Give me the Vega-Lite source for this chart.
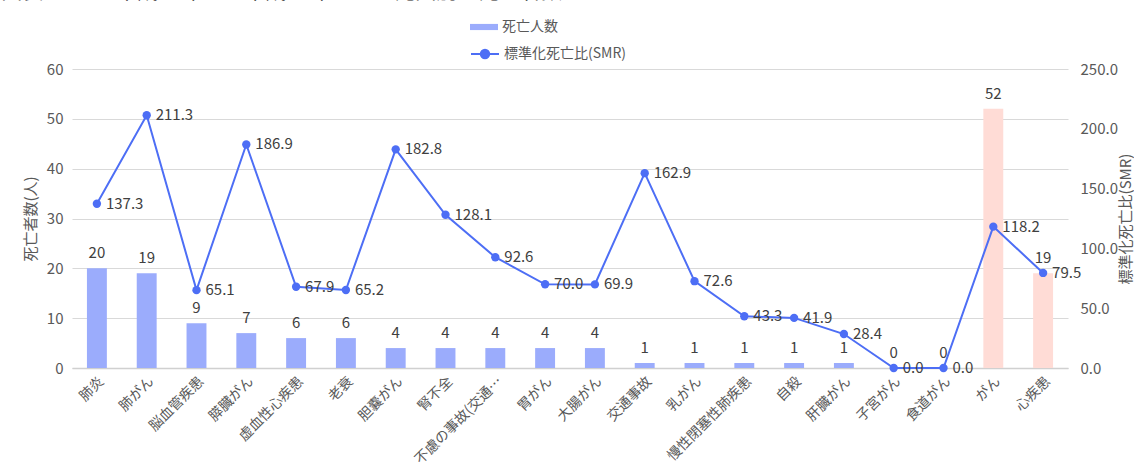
{
  "$schema": "https://vega.github.io/schema/vega-lite/v6.json",
  "width": 996,
  "height": 299,
  "autosize": {"type": "none"},
  "padding": {"left": 72, "top": 69, "right": 66, "bottom": 106},
  "title": {
    "text": "図表5-2-1-4 平成21年から平成25年までの死因別の死亡者数とSMR",
    "anchor": "start",
    "fontSize": 21,
    "fontWeight": "normal",
    "color": "#222222",
    "baseline": "alphabetic",
    "dx": -22,
    "dy": 10
  },
  "config": {
    "font": "Noto Sans CJK JP",
    "view": {"stroke": null},
    "axis": {"labelColor": "#595959", "titleColor": "#595959", "labelFont": "Noto Sans CJK JP", "titleFont": "Noto Sans CJK JP"},
    "legend": {"labelColor": "#595959", "labelFontSize": 14, "labelFont": "Noto Sans CJK JP"}
  },
  "data": {
    "values": [
      {"cat": "肺炎", "deaths": 20, "smr": 137.3, "kind": "個別"},
      {"cat": "肺がん", "deaths": 19, "smr": 211.3, "kind": "個別"},
      {"cat": "脳血管疾患", "deaths": 9, "smr": 65.1, "kind": "個別"},
      {"cat": "膵臓がん", "deaths": 7, "smr": 186.9, "kind": "個別"},
      {"cat": "虚血性心疾患", "deaths": 6, "smr": 67.9, "kind": "個別"},
      {"cat": "老衰", "deaths": 6, "smr": 65.2, "kind": "個別"},
      {"cat": "胆嚢がん", "deaths": 4, "smr": 182.8, "kind": "個別"},
      {"cat": "腎不全", "deaths": 4, "smr": 128.1, "kind": "個別"},
      {"cat": "不慮の事故(交通事故除く)", "deaths": 4, "smr": 92.6, "kind": "個別"},
      {"cat": "胃がん", "deaths": 4, "smr": 70.0, "kind": "個別"},
      {"cat": "大腸がん", "deaths": 4, "smr": 69.9, "kind": "個別"},
      {"cat": "交通事故", "deaths": 1, "smr": 162.9, "kind": "個別"},
      {"cat": "乳がん", "deaths": 1, "smr": 72.6, "kind": "個別"},
      {"cat": "慢性閉塞性肺疾患", "deaths": 1, "smr": 43.3, "kind": "個別"},
      {"cat": "自殺", "deaths": 1, "smr": 41.9, "kind": "個別"},
      {"cat": "肝臓がん", "deaths": 1, "smr": 28.4, "kind": "個別"},
      {"cat": "子宮がん", "deaths": 0, "smr": 0.0, "kind": "個別"},
      {"cat": "食道がん", "deaths": 0, "smr": 0.0, "kind": "個別"},
      {"cat": "がん", "deaths": 52, "smr": 118.2, "kind": "総数"},
      {"cat": "心疾患", "deaths": 19, "smr": 79.5, "kind": "総数"}
    ]
  },
  "encoding": {
    "x": {
      "field": "cat",
      "type": "nominal",
      "sort": null,
      "scale": {"paddingInner": 0.6, "paddingOuter": 0.3},
      "axis": {
        "title": null,
        "labelAngle": -45,
        "labelFontSize": 14,
        "labelLimit": 118,
        "labelPadding": 6,
        "ticks": false,
        "domainColor": "#d0d0d0",
        "domainWidth": 1.5
      }
    }
  },
  "layer": [
    {
      "encoding": {
        "y": {
          "field": "deaths",
          "type": "quantitative",
          "scale": {"domain": [0, 60]},
          "axis": {
            "title": "死亡者数(人)",
            "titleFontSize": 15,
            "titleFontWeight": "normal",
            "titlePadding": 8,
            "labelFontSize": 15,
            "labelPadding": 9,
            "values": [0, 10, 20, 30, 40, 50, 60],
            "ticks": false,
            "domain": false,
            "gridColor": "#d9d9d9",
            "gridWidth": 1.2
          }
        }
      },
      "layer": [
        {
          "transform": [{"filter": "datum.kind == '個別'"}],
          "mark": {"type": "bar"},
          "encoding": {
            "color": {
              "datum": "死亡人数",
              "type": "nominal",
              "scale": {"range": ["#9bacfc"]},
              "legend": {
                "title": null,
                "orient": "none",
                "legendX": 398,
                "legendY": -56,
                "symbolType": "M-1,-0.22H1V0.22H-1Z",
                "symbolSize": 784,
                "symbolStrokeWidth": 0,
                "labelOffset": 4
              }
            }
          }
        },
        {
          "transform": [{"filter": "datum.kind == '総数'"}],
          "mark": {"type": "bar", "color": "#ffdcd6"}
        },
        {
          "mark": {"type": "text", "baseline": "alphabetic", "dy": -10, "fontSize": 15, "color": "#404040"},
          "encoding": {"text": {"field": "deaths", "type": "quantitative"}}
        }
      ]
    },
    {
      "encoding": {
        "y": {
          "field": "smr",
          "type": "quantitative",
          "scale": {"domain": [0, 250]},
          "axis": {
            "orient": "right",
            "title": "標準化死亡比(SMR)",
            "titleAngle": 270,
            "titleFontSize": 15,
            "titleFontWeight": "normal",
            "titlePadding": 16,
            "labelFontSize": 15,
            "labelPadding": 12,
            "format": ".1f",
            "values": [0, 50, 100, 150, 200, 250],
            "ticks": false,
            "domain": false,
            "grid": false
          }
        }
      },
      "layer": [
        {
          "mark": {"type": "line", "strokeWidth": 2},
          "encoding": {
            "stroke": {
              "datum": "標準化死亡比(SMR)",
              "type": "nominal",
              "scale": {"range": ["#4d6ef5"]},
              "legend": {
                "title": null,
                "orient": "none",
                "legendX": 398,
                "legendY": -30,
                "symbolType": "M-1,0H1M0.3,0A0.3,0.3,0,1,1,-0.3,0A0.3,0.3,0,1,1,0.3,0",
                "symbolSize": 784,
                "symbolStrokeWidth": 2,
                "symbolFillColor": "#4d6ef5",
                "labelOffset": 4
              }
            }
          }
        },
        {
          "mark": {"type": "point", "filled": true, "size": 70, "color": "#4d6ef5", "opacity": 1}
        },
        {
          "mark": {"type": "text", "align": "left", "baseline": "middle", "dx": 9, "fontSize": 15, "color": "#404040"},
          "encoding": {"text": {"field": "smr", "type": "quantitative", "format": ".1f"}}
        }
      ]
    }
  ],
  "resolve": {"scale": {"y": "independent"}}
}
